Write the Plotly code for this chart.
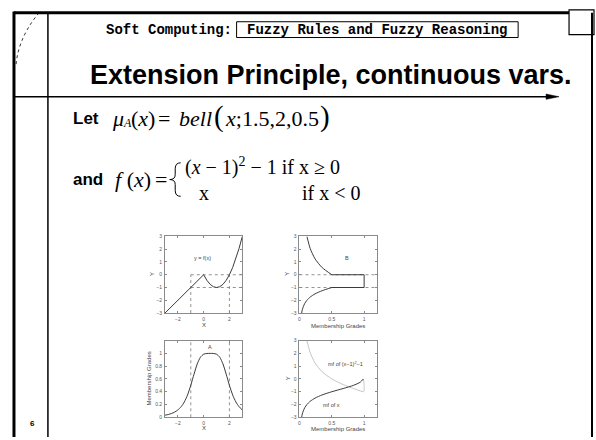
import plotly.graph_objects as go

W, H = 596, 440

# sample points along the universe of discourse X
x_vals = [-3, -2.75, -2.5, -2.25, -2, -1.75, -1.5, -1.25, -1, -0.75, -0.5, -0.25,
          0, 0.25, 0.5, 0.75, 1, 1.25, 1.5, 1.75, 2, 2.25, 2.5, 2.75, 3]
# membership grades of fuzzy set A = bell(x; 1.5, 2, 0.5)
mu_a = [0.033, 0.043, 0.059, 0.081, 0.115, 0.165, 0.240, 0.350, 0.500, 0.675, 0.835, 0.941,
        0.988, 0.999, 1.000, 0.999, 0.988, 0.941, 0.835, 0.675, 0.500, 0.350, 0.240, 0.165, 0.115]
# y = f(x)
f_vals = [-3, -2.75, -2.5, -2.25, -2, -1.75, -1.5, -1.25, -1, -0.75, -0.5, -0.25,
          0, -0.4375, -0.75, -0.9375, -1, -0.9375, -0.75, -0.4375, 0, 0.5625, 1.25, 2.0625, 3]

# support edges of the 0.5-cut of A and the matching levels in Y
cut_x = [-1, 2]
cut_y = [0, -1]

x_ticks = [-2, 0, 2]
y_ticks = [-3, -2, -1, 0, 1, 2, 3]
mg_ticks = [0, 0.5, 1]
mg_ticks_fine = [0, 0.2, 0.4, 0.6, 0.8, 1]


def px(x, y):
    return x / W, 1 - y / H


def lbl(v):
    return f"{v:g}".replace("-", "\u2212")


LINE = "#3a3a3a"
AX = "#8a8a8a"
TICKFONT = dict(family="Liberation Sans", size=5, color="#555")
SMOOTH = dict(color=LINE, width=1, shape="spline", smoothing=0.6)

fig = go.Figure()

# panel 1: y = f(x)
fig.add_trace(go.Scatter(x=x_vals, y=f_vals, mode="lines",
                         line=dict(color=LINE, width=1), xaxis="x", yaxis="y"))

# panel 2: induced fuzzy set B (upper branch, plateau, lower branch)
upper = [(m, f) for xv, m, f in zip(x_vals, mu_a, f_vals) if xv >= cut_x[1]]
lower = [(m, xv) for xv, m in zip(x_vals, mu_a) if xv <= cut_x[0]]
peak = max(mu_a)
plateau = [upper[0], (peak, cut_y[0]), (peak, cut_y[1]), lower[-1]]
for pts, ln in ((upper, SMOOTH), (plateau, dict(color=LINE, width=1)), (lower, SMOOTH)):
    fig.add_trace(go.Scatter(x=[p[0] for p in pts], y=[p[1] for p in pts], mode="lines",
                             line=ln, xaxis="x2", yaxis="y2"))

# panel 3: fuzzy set A
fig.add_trace(go.Scatter(x=x_vals, y=mu_a, mode="lines", line=SMOOTH,
                         xaxis="x3", yaxis="y3"))

# panel 4: membership functions of each branch
neg = [(m, xv) for xv, m in zip(x_vals, mu_a) if xv <= 0]
pos = [(m, f) for xv, m, f in zip(x_vals, mu_a, f_vals) if xv >= 0]
fig.add_trace(go.Scatter(x=[p[0] for p in pos], y=[p[1] for p in pos], mode="lines",
                         line=dict(SMOOTH, color="#c4c4c4"), xaxis="x4", yaxis="y4"))
fig.add_trace(go.Scatter(x=[p[0] for p in neg], y=[p[1] for p in neg], mode="lines",
                         line=SMOOTH, xaxis="x4", yaxis="y4"))

# panel domains (paper fractions)
colL = [164.3 / W, 241.7 / W]
colR = [299.0 / W, 376.7 / W]
rowT = [1 - 314.3 / H, 1 - 236.7 / H]
rowB = [1 - 420.0 / H, 1 - 342.3 / H]


def axis(domain, anchor, rng, ticks):
    return dict(domain=domain, anchor=anchor, range=rng, tickmode="array",
                tickvals=ticks, ticktext=[lbl(t) for t in ticks],
                showline=True, mirror="ticks", linecolor=AX, linewidth=0.8,
                ticks="inside", ticklen=2, tickwidth=0.6, tickcolor=AX,
                showgrid=False, zeroline=False, tickfont=TICKFONT, ticklabelstandoff=1)


fig.update_layout(
    xaxis=axis(colL, "y", [-3, 3], x_ticks),
    yaxis=axis(rowT, "x", [-3, 3], y_ticks),
    xaxis2=axis(colR, "y2", [0, 1.2], mg_ticks),
    yaxis2=axis(rowT, "x2", [-3, 3], y_ticks),
    xaxis3=axis(colL, "y3", [-3, 3], x_ticks),
    yaxis3=axis(rowB, "x3", [0, 1.2], mg_ticks_fine),
    xaxis4=axis(colR, "y4", [0, 1.2], mg_ticks),
    yaxis4=axis(rowB, "x4", [-3, 3], y_ticks),
)

shapes = []
DOT = dict(color="#777", width=0.8, dash="dot")
# panel 1 guides
for yv in cut_y:
    shapes.append(dict(type="line", xref="x", yref="y", x0=cut_x[0], x1=3, y0=yv, y1=yv,
                       line=DOT, layer="below"))
for xv in cut_x:
    shapes.append(dict(type="line", xref="x", yref="y", x0=xv, x1=xv, y0=-3, y1=cut_y[0],
                       line=DOT, layer="below"))
# panel 2 guides
for yv in cut_y:
    shapes.append(dict(type="line", xref="x2 domain", yref="y2", x0=0, x1=1, y0=yv, y1=yv,
                       line=DOT, layer="below"))
# panel 3 guides
for xv in cut_x:
    shapes.append(dict(type="line", xref="x3", yref="y3 domain", x0=xv, x1=xv, y0=0, y1=1,
                       line=DOT, layer="below"))


def seg(x0, y0, x1, y1, w, color="black", dash="solid"):
    a = px(x0, y0)
    b = px(x1, y1)
    shapes.append(dict(type="line", xref="paper", yref="paper", x0=a[0], y0=a[1],
                       x1=b[0], y1=b[1], line=dict(color=color, width=w, dash=dash)))


def path(points_cmd, w, color="black", fill=None, dash="solid"):
    out = []
    for tok in points_cmd:
        if isinstance(tok, str):
            out.append(tok)
        else:
            a = px(*tok)
            out.append(f"{a[0]:.5f},{a[1]:.5f}")
    shapes.append(dict(type="path", xref="paper", yref="paper", path=" ".join(out),
                       line=dict(color=color, width=w, dash=dash),
                       fillcolor=fill if fill else "rgba(0,0,0,0)"))


# slide frame
seg(13, 10, 569, 10, 3)
seg(13, 8.5, 13, 440, 3)
seg(47, 10, 47, 440, 1.5)
seg(592, 10, 592, 440, 2)
path(["M", (569, 7), "L", (594, 7), "L", (594, 32), "L", (569, 32), "Z"], 1.2)
seg(13, 95, 550, 95, 1.5)
path(["M", (559, 95), "L", (546, 92.3), "L", (546, 97.7), "Z"], 0.5, fill="black")
path(["M", (38, 10), "C", (28, 22), (17, 40), (15, 63)], 0.8, dash="dot")
# box around the running header
path(["M", (236, 19), "L", (518, 19), "L", (518, 35), "L", (236, 35), "Z"], 1)
# brace of the piecewise definition
path(["M", (180, 162), "Q", (174.5, 162), (174.5, 168), "L", (174.5, 174),
      "Q", (174.5, 179), (169, 179), "Q", (174.5, 179), (174.5, 184), "L", (174.5, 190),
      "Q", (174.5, 196), (180, 196)], 1)

fig.update_layout(shapes=shapes)

ann = []


def text(x, y, s, size, family="Liberation Sans", xanchor="left", yanchor="middle",
         color="black", angle=0):
    a = px(x, y)
    ann.append(dict(x=a[0], y=a[1], xref="paper", yref="paper", text=s, showarrow=False,
                    xanchor=xanchor, yanchor=yanchor, textangle=angle,
                    font=dict(family=family, size=size, color=color)))


MONO = "Liberation Mono"
SERIF = "Liberation Serif"
FS = 22
FP = 20
text(103, 27, "<b>Soft Computing:</b>", 14, MONO)
text(377, 27, "<b>Fuzzy Rules and Fuzzy Reasoning</b>", 14, MONO, xanchor="center")
text(331, 73, "<b>Extension Principle, continuous vars.</b>", 27, xanchor="center")

text(70, 117, "<b>Let</b>", 17)
text(109, 117, "<i>\u03bc</i>", FS, SERIF)
text(120, 122, "<i>A</i>", 12, SERIF)
text(128, 117, "(<i>x</i>)", FS, SERIF)
text(155, 117, "=", FS, SERIF)
text(176, 117, "<i>bell</i>", FS, SERIF)
text(211, 115.5, "(", 29, SERIF)
text(222, 117, "<i>x</i>;1.5,2,0.5", FS, SERIF)
text(318, 115.5, ")", 29, SERIF)

text(70, 179, "<b>and</b>", 17)
text(112, 179, "<i>f</i> (<i>x</i>)", FS, SERIF)
text(152, 179, "=", FS, SERIF)
text(182, 166, "(<i>x</i> \u2212 1)<sup>2</sup> \u2212 1 if x \u2265 0", FP, SERIF)
text(196, 193, "x", FP, SERIF)
text(300, 193, "if x &lt; 0", FP, SERIF)

text(32, 426, "<b>6</b>", 8, xanchor="center")

# panel labels
LC = "#444"
text(152, 275, "Y", 6, xanchor="center", angle=-90, color=LC)
text(203, 326, "X", 6, xanchor="center", color=LC)
text(201.7, 259, "y = f(x)", 5.5, xanchor="center", color=LC)

text(287, 275, "Y", 6, xanchor="center", angle=-90, color=LC)
text(338, 327, "Membership Grades", 6, xanchor="center", color=LC)
text(346.7, 259, "B", 5.5, xanchor="center", color=LC)

text(148, 381, "Membership Grades", 6, xanchor="center", angle=-90, color=LC)
text(203, 431, "X", 6, xanchor="center", color=LC)
text(209.3, 349, "A", 5.5, xanchor="center", color=LC)

text(287, 381, "Y", 6, xanchor="center", angle=-90, color=LC)
text(338, 432, "Membership Grades", 6, xanchor="center", color=LC)
text(345, 366, "mf of (x\u22121)<sup>2</sup>\u22121", 5.5, xanchor="center", color=LC)
text(331, 408, "mf of x", 5.5, xanchor="center", color=LC)

fig.update_layout(annotations=ann, width=W, height=H, margin=dict(l=0, r=0, t=0, b=0),
                  paper_bgcolor="white", plot_bgcolor="white", showlegend=False)

fig.write_html("out.html", config={"displayModeBar": False})
